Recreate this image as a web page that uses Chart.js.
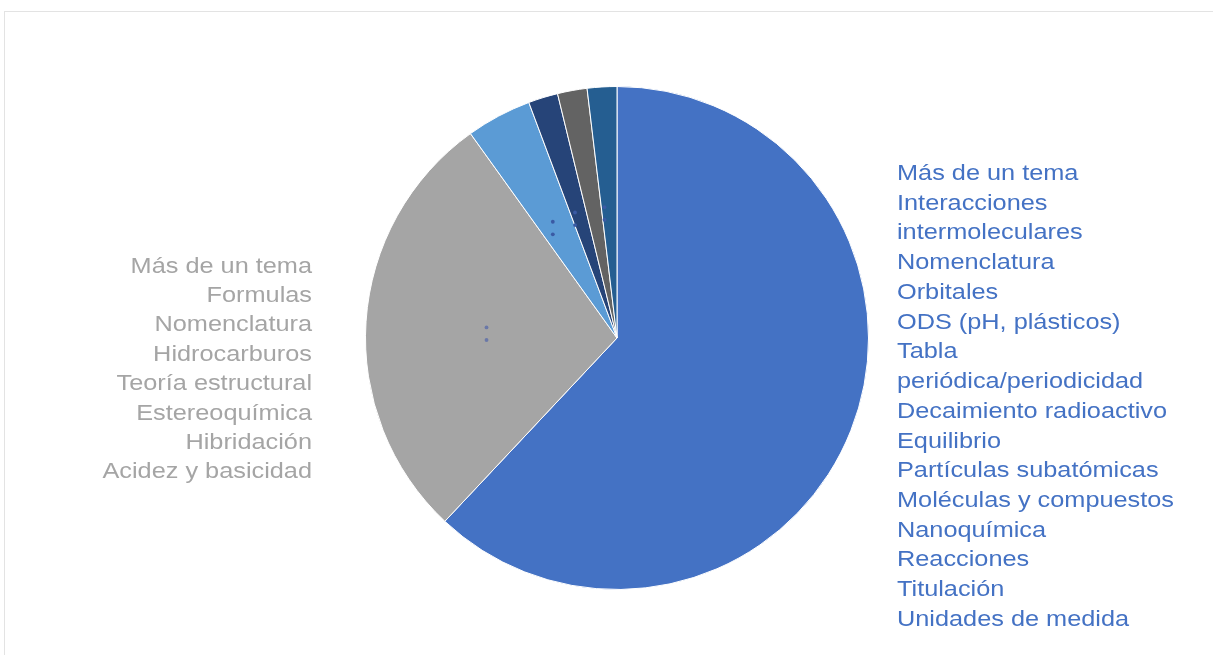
<!DOCTYPE html>
<html>
<head>
<meta charset="utf-8">
<script src="https://cdn.jsdelivr.net/npm/chart.js@4"></script>
<style>
  html, body { margin: 0; padding: 0; background: #ffffff; overflow: hidden; }
  #frame { position: absolute; left: 4px; top: 11px; width: 1300px; height: 700px; border: 1px solid #e3e3e3; box-sizing: border-box; }
  #wrap { position: absolute; left: 0; top: 0; width: 1213px; height: 655px; }
</style>
</head>
<body>
<div id="frame"></div>
<div id="wrap"><canvas id="c" width="1213" height="655"></canvas></div>
<script>
// ---- data ----
const categories = ["Categoría 1", "Categoría 2", "Categoría 3", "Categoría 4", "Categoría 5", "Categoría 6"];
const sliceValues = [62.0, 28.1, 4.2, 1.9, 1.9, 1.9];
const rightLabels = [
  "Más de un tema", "Interacciones", "intermoleculares", "Nomenclatura", "Orbitales",
  "ODS (pH, plásticos)", "Tabla", "periódica/periodicidad", "Decaimiento radioactivo",
  "Equilibrio", "Partículas subatómicas", "Moléculas y compuestos", "Nanoquímica",
  "Reacciones", "Titulación", "Unidades de medida"
];
const leftLabels = [
  "Más de un tema", "Formulas", "Nomenclatura", "Hidrocarburos", "Teoría estructural",
  "Estereoquímica", "Hibridación", "Acidez y basicidad"
];

// ---- styles ----
const sliceColors = ["#4472C4", "#A5A5A5", "#5B9BD5", "#264478", "#636363", "#255E91"];

const textPlugin = {
  id: 'textBlocks',
  afterDraw(chart) {
    const ctx = chart.ctx;
    const sx = 1.15;
    ctx.save();
    ctx.font = '22px "Liberation Sans", Arial, sans-serif';
    ctx.textBaseline = 'alphabetic';
    // right block (blue slice label)
    ctx.fillStyle = '#4472C4';
    rightLabels.forEach((t, i) => {
      ctx.save();
      ctx.translate(897, 180 + i * 29.73);
      ctx.scale(sx, 1);
      ctx.textAlign = 'left';
      ctx.fillText(t, 0, 0);
      ctx.restore();
    });
    // left block (gray slice label)
    ctx.fillStyle = '#A5A5A5';
    leftLabels.forEach((t, i) => {
      ctx.save();
      ctx.translate(312, 272.5 + i * 29.4);
      ctx.scale(sx, 1);
      ctx.textAlign = 'right';
      ctx.fillText(t, 0, 0);
      ctx.restore();
    });
    // tiny residual label marks inside the slices
    const meta = chart.getDatasetMeta(0);
    [1, 2, 3, 5].forEach(idx => {
      const p = meta.data[idx].tooltipPosition();
      ctx.fillStyle = idx === 1 ? '#6a78a8' : '#3a5aa4';
      const x = p.x - 5, gap = 6.3;
      const cy = p.y + (idx === 1 ? 4 : 1);
      ctx.beginPath(); ctx.arc(x, cy - gap, 1.9, 0, Math.PI * 2); ctx.fill();
      ctx.beginPath(); ctx.arc(x, cy + gap, 1.9, 0, Math.PI * 2); ctx.fill();
    });
    ctx.restore();
  }
};

new Chart(document.getElementById('c'), {
  type: 'pie',
  data: {
    labels: categories,
    datasets: [{
      data: sliceValues,
      backgroundColor: sliceColors,
      borderColor: '#ffffff',
      borderWidth: 1
    }]
  },
  options: {
    responsive: false,
    animation: false,
    layout: { padding: { left: 365, right: 344, top: 86, bottom: 65 } },
    plugins: { legend: { display: false }, tooltip: { enabled: false } }
  },
  plugins: [textPlugin]
});
</script>
</body>
</html>
